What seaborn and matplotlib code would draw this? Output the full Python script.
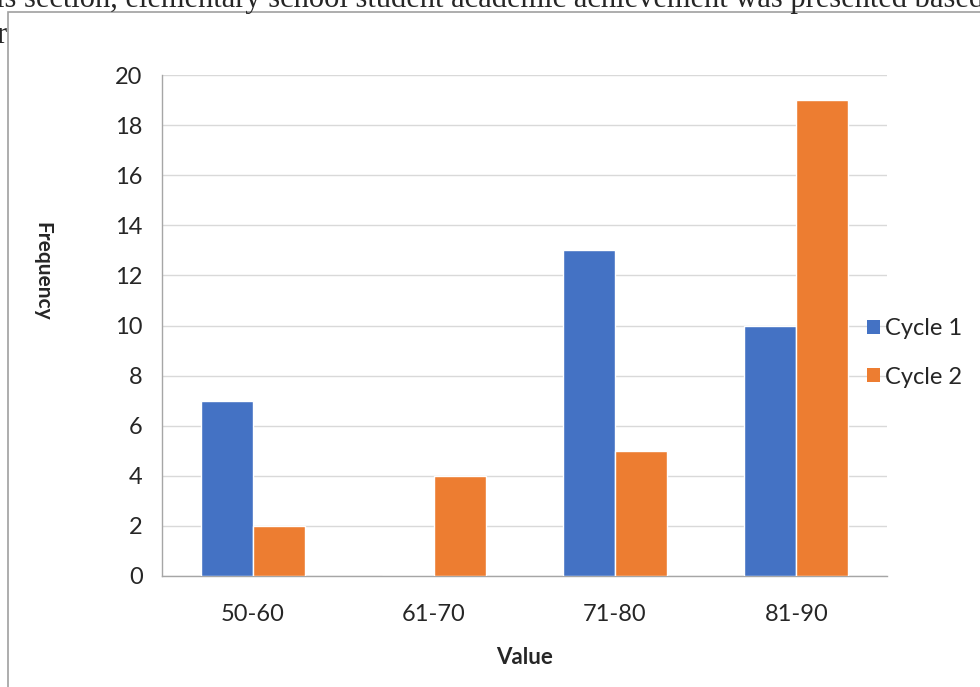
import matplotlib
matplotlib.use("Agg")
import matplotlib.pyplot as plt
import seaborn as sns
import pandas as pd
from matplotlib.patches import Patch, Rectangle

# data
categories = ["50-60", "61-70", "71-80", "81-90"]
cycle1 = [7, 0, 13, 10]
cycle2 = [2, 4, 5, 19]
series = ["Cycle 1", "Cycle 2"]
colors = ["#4472C4", "#ED7D31"]
y_ticks = [0, 2, 4, 6, 8, 10, 12, 14, 16, 18, 20]

df = pd.DataFrame({
    "Value": categories * 2,
    "Frequency": cycle1 + cycle2,
    "Series": [series[0]] * 4 + [series[1]] * 4,
})

sns.set_style("white")
plt.rcParams["font.family"] = ["Lato", "DejaVu Sans"]

fig = plt.figure(figsize=(9.8, 6.87), dpi=100)
ax = fig.add_axes([0.1653, 0.1616, 0.905 - 0.1653, 0.8908 - 0.1616])

sns.barplot(data=df, x="Value", y="Frequency", hue="Series",
            palette=colors, width=0.574, saturation=1, legend=False,
            ax=ax, zorder=3)

ax.set_ylim(0, 20)
ax.set_xlim(-0.5, 3.5)
ax.set_yticks(y_ticks)
ax.yaxis.grid(True, color="#D9D9D9", linewidth=1, zorder=0)
ax.set_axisbelow(True)
for s in ["top", "right"]:
    ax.spines[s].set_visible(False)
for s in ["left", "bottom"]:
    ax.spines[s].set_color("#A6A6A6")
    ax.spines[s].set_linewidth(1)

ax.tick_params(axis="y", length=5, width=1, color="#A6A6A6", labelsize=17, pad=9)
ax.tick_params(axis="x", which="major", length=0, labelsize=17, pad=20)
ax.set_xticks([-0.5, 0.5, 1.5, 2.5, 3.5], minor=True)
ax.tick_params(axis="x", which="minor", length=6, width=1, color="#A6A6A6")

ax.set_xlabel("Value", fontsize=16, fontweight="bold", labelpad=16)
ax.set_ylabel("")
fig.text(0.043, 1 - 271 / 687, "Frequency", rotation=-90, fontsize=15,
         fontweight="bold", ha="center", va="center")

handles = [Patch(facecolor=c, edgecolor="none") for c in colors]
ax.legend(handles, series, loc="center left", bbox_to_anchor=(0.972, 0.445),
          frameon=False, fontsize=17, handlelength=0.55, handleheight=0.55,
          handletextpad=0.25, labelspacing=1.15, borderaxespad=0,
          borderpad=0)

# surrounding page: frame and cut-off body text
fig.patches.append(Rectangle((8 / 980, -0.01), 1.0, 1 - 12 / 687 + 0.01,
                             transform=fig.transFigure, fill=False,
                             edgecolor="#A0A0A0", linewidth=1.2, zorder=0))
fig.text(-0.004, 1 - 7 / 687,
         "is section, elementary school student academic achievement was presented based",
         family=["Liberation Serif"], fontsize=22, ha="left", va="baseline")
fig.text(-0.004, 1 - 43 / 687, "r", family=["Liberation Serif"], fontsize=22,
         ha="left", va="baseline")

fig.savefig("out.png", dpi=100)
